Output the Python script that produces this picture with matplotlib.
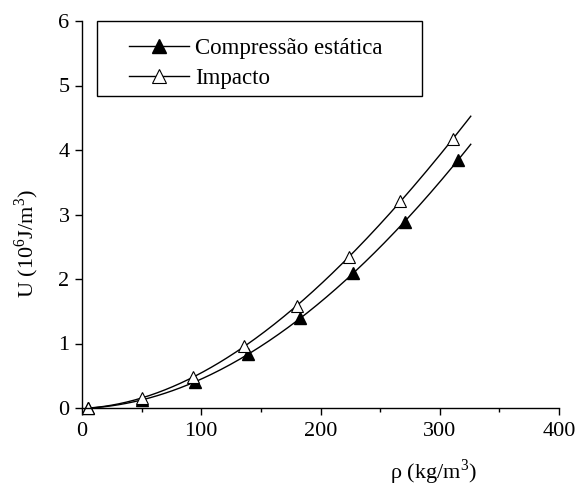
import numpy as np
import matplotlib
matplotlib.use("Agg")
import matplotlib.pyplot as plt
from matplotlib.ticker import MultipleLocator
from matplotlib.lines import Line2D
from matplotlib.patches import Rectangle

rho = [5, 50, 93, 136, 180, 224, 267, 311]
rho_c = [5, 50, 95, 139, 183, 227, 271, 315]
u_imp = [0.0, 0.15, 0.48, 0.96, 1.58, 2.34, 3.21, 4.17]
u_comp = [0.0, 0.12, 0.41, 0.83, 1.39, 2.09, 2.89, 3.84]
xticks = [0, 100, 200, 300, 400]
yticks = [0, 1, 2, 3, 4, 5, 6]

plt.rcParams['font.family'] = ['Liberation Serif', 'DejaVu Serif']
plt.rcParams['mathtext.fontset'] = 'custom'
plt.rcParams['mathtext.rm'] = 'Liberation Serif'
W, H = 579, 488
fig = plt.figure(figsize=(W / 100, H / 100), dpi=100)
ax = fig.add_axes([82 / W, 1 - 408 / H, (559 - 82) / W, (408 - 21) / H])

xs = np.linspace(5, 326, 200)
pc = np.polyfit(rho_c, u_comp, 3)
pi = np.polyfit(rho, u_imp, 3)
ax.plot(xs, np.polyval(pc, xs), color='black', lw=1)
ax.plot(xs, np.polyval(pi, xs), color='black', lw=1)
ax.plot(rho_c, u_comp, linestyle='none', marker='^', ms=8, mfc='black', mec='black', clip_on=False)
ax.plot(rho, u_imp, linestyle='none', marker='^', ms=8, mfc='white', mec='black', mew=0.8, clip_on=False)

ax.set_xlim(0, 400)
ax.set_ylim(0, 6)
ax.set_xticks(xticks)
ax.set_yticks(yticks)
ax.xaxis.set_minor_locator(MultipleLocator(50))
ax.tick_params(axis='both', which='major', direction='out', length=5, width=1, labelsize=16, colors='black')
ax.tick_params(axis='x', which='minor', direction='out', length=2.6, width=1)
ax.tick_params(axis='x', which='major', pad=5)
ax.tick_params(axis='y', which='major', pad=4)
for s in ['top', 'right']:
    ax.spines[s].set_visible(False)
for s in ['left', 'bottom']:
    ax.spines[s].set_linewidth(1)

fig.text(27 / W, 1 - 243 / H, r'U (10$^{6}$J/m$^{3}$)', fontsize=16, rotation=90,
         ha='center', va='center')
fig.text(433 / W, 1 - 479 / H, r'ρ (kg/m$^{3}$)', fontsize=16, ha='center', va='baseline')

# legend frame
fig.patches.append(Rectangle((97 / W, 1 - 96 / H), (422 - 97) / W, (96 - 21) / H,
                             transform=fig.transFigure, fill=False, edgecolor='black', lw=1))
handles = [Line2D([], [], color='black', lw=1, marker='^', ms=10, mfc='black', mec='black'),
           Line2D([], [], color='black', lw=1, marker='^', ms=10, mfc='white', mec='black', mew=0.8)]
leg = fig.legend(handles, ['Compressão estática', 'Impacto'], loc='upper left',
                 bbox_to_anchor=(129 / W, 1 - 38 / H), bbox_transform=fig.transFigure,
                 frameon=False, fontsize=16.5, handlelength=2.6, handletextpad=0.3,
                 borderpad=0, borderaxespad=0, labelspacing=0.37)

fig.savefig('out.png', dpi=100)
